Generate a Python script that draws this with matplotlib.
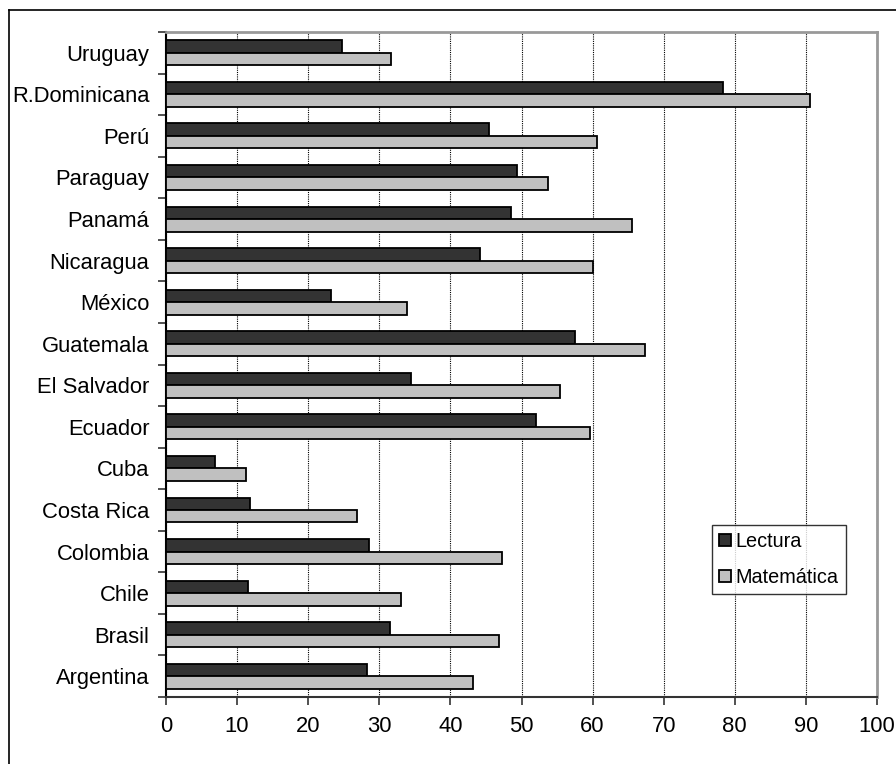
import numpy as np
import matplotlib

matplotlib.use("Agg")
import matplotlib.pyplot as plt
from matplotlib.lines import Line2D

plt.rcParams["font.family"] = ["Liberation Sans", "DejaVu Sans"]

# Data (bottom to top, as drawn)
countries = [
    "Argentina", "Brasil", "Chile", "Colombia", "Costa Rica", "Cuba",
    "Ecuador", "El Salvador", "Guatemala", "México", "Nicaragua",
    "Panamá", "Paraguay", "Perú", "R.Dominicana", "Uruguay",
]
lectura = [28.2, 31.5, 11.5, 28.5, 11.8, 6.9, 52.1, 34.4, 57.5, 23.2,
           44.2, 48.5, 49.3, 45.4, 78.3, 24.8]
matematica = [43.2, 46.8, 33.0, 47.2, 26.9, 11.3, 59.7, 55.4, 67.3, 33.9,
              60.0, 65.6, 53.7, 60.6, 90.6, 31.7]
xticks = list(range(0, 101, 10))

W, H = 896, 764
FS = 15.8
fig = plt.figure(figsize=(W / 100, H / 100), dpi=100)
ax = fig.add_axes([166 / W, 1 - 697 / H, (877 - 166) / W, (697 - 32) / H])

y = np.arange(len(countries))
bh = 0.3
ax.barh(y + bh / 2, lectura, height=bh, color="#333333", edgecolor="black",
        linewidth=1.3, label="Lectura", zorder=3)
ax.barh(y - bh / 2, matematica, height=bh, color="#c0c0c0", edgecolor="black",
        linewidth=1.3, label="Matemática", zorder=3)

ax.set_xlim(0, 100)
ax.set_ylim(-0.5, len(countries) - 0.5)
ax.set_xticks(xticks)
ax.set_xticklabels([str(v) for v in xticks], fontsize=FS)
ax.set_yticks(y)
ax.set_yticklabels(countries, fontsize=FS)
ax.tick_params(axis="y", which="major", length=0, pad=12)
ax.set_yticks(np.arange(-0.5, len(countries), 1), minor=True)
ax.tick_params(axis="y", which="minor", length=6, width=1.2, color="#333333")
ax.tick_params(axis="x", length=6, width=1.2, color="#333333", pad=8)

ax.grid(True, axis="x", color="black", linestyle=(0, (1, 1)), linewidth=0.8, zorder=0)
ax.set_axisbelow(True)

for side in ("top", "right"):
    ax.spines[side].set_color("#999999")
    ax.spines[side].set_linewidth(2)
ax.spines["left"].set_color("black")
ax.spines["left"].set_linewidth(1.5)
ax.spines["bottom"].set_color("#333333")
ax.spines["bottom"].set_linewidth(1.5)

leg = ax.legend(loc="upper left", bbox_to_anchor=(712 / W, 1 - 525 / H),
                bbox_transform=fig.transFigure, fontsize=14.3, frameon=True,
                fancybox=False, edgecolor="black", handlelength=0.6,
                handleheight=0.6, handletextpad=0.25, labelspacing=0.85,
                borderpad=0.35, borderaxespad=0)
leg.get_frame().set_linewidth(1.0)

# Outer chart border
fig.add_artist(Line2D([9 / W, 9 / W], [0, 1 - 10 / H], color="black", linewidth=1.2))
fig.add_artist(Line2D([9 / W, 1], [1 - 10 / H, 1 - 10 / H], color="black", linewidth=1.2))

fig.savefig("out.png", dpi=100)
